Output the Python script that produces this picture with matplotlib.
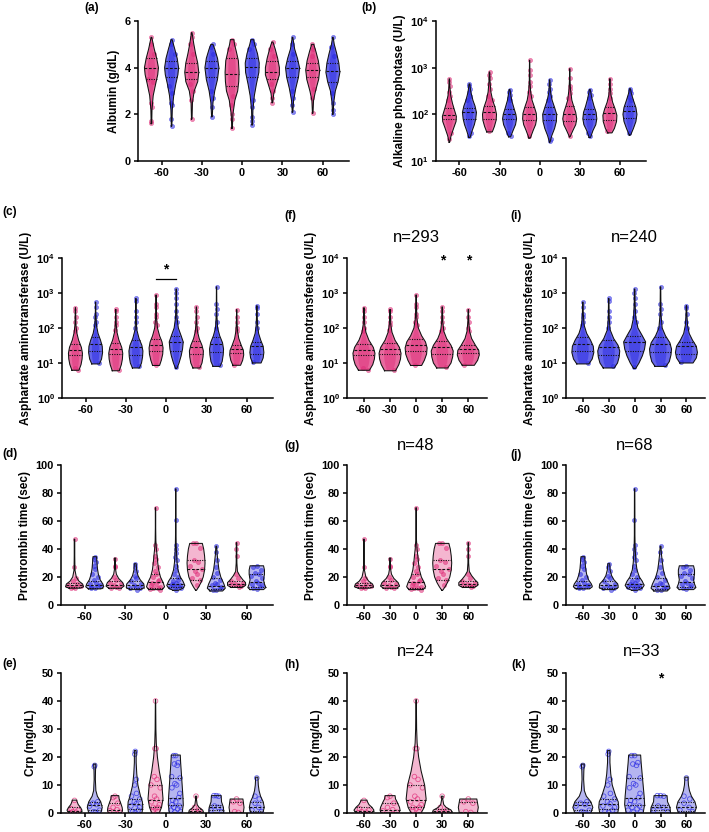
import numpy as np
import matplotlib
matplotlib.use('Agg')
import matplotlib.pyplot as plt
from matplotlib.ticker import FixedLocator, NullLocator

plt.rcParams['font.family'] = ['Liberation Sans', 'DejaVu Sans']
plt.rcParams['font.weight'] = 'bold'
plt.rcParams['mathtext.fontset'] = 'custom'
plt.rcParams['mathtext.rm'] = 'Liberation Sans:bold'
plt.rcParams['mathtext.bf'] = 'Liberation Sans:bold'
plt.rcParams['mathtext.it'] = 'Liberation Sans:bold'
plt.rcParams['mathtext.default'] = 'rm'

# ---------------- data ----------------
TIMES = [-60, -30, 0, 30, 60]
# order of 10 groups: P-60, B-60, P-30, B-30, P0, B0, P30, B30, P60, B60  (P = pink cohort, B = blue cohort)

# Albumin (g/dL)
ALB_Y = [[1.6, 2.2, 2.8, 3.3, 3.7, 4.0, 4.4, 4.8, 5.3],
         [1.5, 2.2, 2.8, 3.3, 3.7, 4.0, 4.4, 4.8, 5.2],
         [1.8, 2.5, 3.0, 3.4, 3.8, 4.2, 4.6, 5.0, 5.5],
         [1.9, 2.5, 3.0, 3.5, 4.0, 4.4, 4.8, 5.0],
         [1.4, 2.0, 2.6, 3.0, 3.4, 3.8, 4.3, 4.7, 5.0, 5.2],
         [1.55, 2.2, 2.8, 3.3, 3.8, 4.2, 4.6, 5.0, 5.2],
         [2.5, 2.9, 3.3, 3.7, 4.0, 4.4, 4.8, 5.1],
         [2.1, 2.6, 3.1, 3.6, 4.0, 4.4, 4.8, 5.3],
         [2.05, 2.6, 3.0, 3.5, 3.9, 4.3, 4.7, 5.0],
         [2.0, 2.5, 3.0, 3.4, 3.8, 4.2, 4.6, 5.0, 5.3]]
ALB_W = [[0.04, 0.08, 0.25, 0.6, 0.9, 1.0, 0.75, 0.4, 0.05],
         [0.04, 0.1, 0.3, 0.6, 0.9, 1.0, 0.8, 0.45, 0.08],
         [0.04, 0.1, 0.35, 0.85, 1.0, 0.85, 0.55, 0.3, 0.04],
         [0.05, 0.15, 0.4, 0.8, 1.0, 0.8, 0.4, 0.15],
         [0.04, 0.12, 0.4, 0.8, 0.95, 1.0, 0.9, 0.6, 0.35, 0.25],
         [0.04, 0.1, 0.3, 0.6, 0.95, 1.0, 0.75, 0.35, 0.2],
         [0.04, 0.2, 0.6, 1.0, 1.0, 0.75, 0.4, 0.08],
         [0.04, 0.15, 0.45, 0.85, 1.0, 0.7, 0.3, 0.04],
         [0.04, 0.12, 0.4, 0.85, 1.0, 0.8, 0.45, 0.15],
         [0.04, 0.12, 0.35, 0.75, 1.0, 0.85, 0.55, 0.2, 0.04]]
ALB_MED = [4.0, 4.0, 3.8, 4.0, 3.75, 4.05, 3.8, 4.0, 3.9, 3.85]
ALB_Q1 = [3.5, 3.6, 3.5, 3.6, 3.2, 3.6, 3.5, 3.6, 3.6, 3.4]
ALB_Q3 = [4.4, 4.3, 4.2, 4.3, 4.4, 4.4, 4.3, 4.3, 4.2, 4.2]
ALB_PTS = [[1.65, 1.7, 2.3, 2.5, 3.4, 3.5, 4.6, 5.0, 5.3],
           [1.5, 1.8, 2.4, 2.5, 2.9, 3.2, 4.6, 5.0, 5.2],
           [1.8, 2.6, 3.0, 3.3, 4.6, 5.0, 5.3, 5.5],
           [1.9, 2.3, 2.7, 3.0, 4.6, 4.9, 5.0],
           [1.4, 1.8, 2.0, 2.4, 2.8, 4.8, 5.0, 5.2],
           [1.55, 1.7, 1.9, 2.3, 2.6, 4.8, 5.0, 5.2],
           [2.5, 2.7, 3.0, 3.3, 4.5, 4.8, 5.1],
           [2.1, 2.4, 2.7, 3.0, 4.6, 5.0, 5.3],
           [2.05, 2.7, 3.1, 4.5, 4.8, 5.0],
           [2.0, 2.2, 2.5, 2.9, 4.5, 4.9, 5.3]]

# Alkaline phosphatase (U/L)
ALP_Y = [[25, 35, 50, 70, 90, 120, 170, 250, 400, 575],
         [32, 45, 60, 80, 110, 150, 200, 300, 450],
         [42, 55, 75, 100, 140, 200, 300, 500, 810],
         [33, 45, 60, 80, 100, 140, 200, 340],
         [31, 45, 60, 80, 105, 140, 200, 300, 500, 1440],
         [25, 35, 50, 70, 100, 140, 200, 300, 550],
         [33, 45, 60, 80, 110, 150, 200, 350, 600, 950],
         [32, 45, 60, 80, 110, 150, 220, 340],
         [40, 50, 70, 95, 130, 180, 260, 400, 580],
         [36, 50, 70, 100, 140, 200, 280, 355]]
ALP_W = [[0.03, 0.25, 0.6, 0.95, 1.0, 0.75, 0.45, 0.2, 0.06, 0.03],
         [0.1, 0.4, 0.7, 0.9, 1.0, 0.8, 0.5, 0.2, 0.05],
         [0.4, 0.7, 0.95, 1.0, 0.8, 0.45, 0.2, 0.08, 0.03],
         [0.15, 0.5, 0.85, 1.0, 0.9, 0.6, 0.3, 0.06],
         [0.1, 0.5, 0.85, 1.0, 0.95, 0.7, 0.35, 0.15, 0.05, 0.02],
         [0.03, 0.3, 0.7, 0.95, 1.0, 0.7, 0.35, 0.12, 0.03],
         [0.05, 0.45, 0.85, 1.0, 0.85, 0.55, 0.3, 0.1, 0.03, 0.02],
         [0.1, 0.45, 0.85, 1.0, 0.9, 0.6, 0.3, 0.06],
         [0.3, 0.65, 0.95, 1.0, 0.75, 0.4, 0.15, 0.05, 0.02],
         [0.1, 0.5, 0.85, 1.0, 0.85, 0.5, 0.2, 0.06]]
ALP_MED = [98, 110, 112, 100, 100, 100, 100, 100, 105, 118]
ALP_Q1 = [78, 80, 81, 78, 74, 75, 73, 78, 75, 85]
ALP_Q3 = [140, 140, 150, 130, 145, 145, 150, 130, 145, 150]
ALP_PTS = [[575, 500, 400, 300, 250, 200, 40, 30],
           [450, 400, 350, 300, 250, 200, 40, 35],
           [810, 700, 600, 450, 350, 250, 200, 45],
           [340, 300, 260, 220, 200, 40, 35],
           [1440, 900, 700, 500, 400, 300, 250, 35],
           [550, 450, 350, 300, 250, 200, 30, 27],
           [950, 600, 400, 350, 280, 220, 35],
           [340, 300, 260, 220, 35, 40],
           [580, 450, 350, 280, 220, 45],
           [355, 320, 280, 230, 200, 40]]

# Aspartate aminotransferase (U/L)
AST_Y = [[6.2, 9, 13, 19, 28, 45, 75, 130, 380],
         [9.4, 13, 20, 30, 45, 70, 120, 250, 550],
         [6.0, 9, 13, 19, 28, 45, 75, 130, 340],
         [7.2, 10, 15, 22, 32, 50, 90, 200, 700],
         [8.5, 12, 18, 27, 40, 60, 100, 200, 880],
         [7, 10, 16, 25, 40, 60, 100, 200, 500, 1300],
         [7.2, 10, 15, 22, 32, 50, 80, 150, 400],
         [8, 11, 17, 25, 38, 60, 100, 250, 1500],
         [8.6, 12, 17, 23, 32, 50, 80, 150, 335],
         [10, 14, 20, 30, 45, 70, 120, 250, 435]]
AST_W = [[0.5, 0.8, 0.95, 1.0, 0.85, 0.45, 0.18, 0.06, 0.02],
         [0.55, 0.85, 1.0, 0.95, 0.7, 0.35, 0.12, 0.04, 0.02],
         [0.5, 0.8, 0.95, 1.0, 0.85, 0.45, 0.18, 0.06, 0.02],
         [0.5, 0.8, 0.95, 1.0, 0.85, 0.45, 0.12, 0.04, 0.02],
         [0.5, 0.75, 0.95, 1.0, 0.85, 0.5, 0.2, 0.06, 0.02],
         [0.1, 0.4, 0.7, 0.9, 1.0, 0.7, 0.3, 0.1, 0.04, 0.02],
         [0.5, 0.8, 0.95, 1.0, 0.8, 0.4, 0.15, 0.05, 0.02],
         [0.5, 0.8, 0.95, 1.0, 0.85, 0.45, 0.15, 0.04, 0.02],
         [0.55, 0.85, 1.0, 0.95, 0.65, 0.3, 0.12, 0.04, 0.02],
         [0.6, 0.9, 1.0, 0.9, 0.55, 0.25, 0.1, 0.04, 0.02]]
AST_MED = [23, 35, 25.6, 28, 32, 40, 28.6, 35, 25, 30]
AST_Q1 = [16.5, 22, 18.5, 17, 22, 22, 18, 20, 19, 18]
AST_Q3 = [36, 55, 38, 45, 50, 60, 42, 55, 33, 40]
AST_PTS = [[380, 300, 200, 150, 100, 80, 6.5, 7],
           [550, 400, 250, 200, 150, 120, 10],
           [340, 300, 200, 150, 120, 90, 6.5],
           [700, 600, 300, 200, 150, 100, 8],
           [880, 500, 400, 250, 200, 150, 120, 9],
           [1300, 1000, 700, 500, 300, 200, 150, 7.5],
           [400, 300, 200, 150, 100, 80, 7.5],
           [1500, 500, 350, 250, 150, 100, 9],
           [335, 200, 150, 100, 80, 9],
           [435, 380, 250, 150, 100, 11]]

# Prothrombin time (sec)
PT_Y = [[12, 13, 15, 17, 20, 25, 35, 47],
        [11.5, 13, 15, 18, 22, 26, 30, 34.5],
        [12, 13.5, 16, 19, 22, 26, 30, 33.5],
        [11, 12.5, 15, 18, 21, 25, 29.5],
        [11, 13, 16, 20, 25, 30, 35, 40, 46, 55, 69.5],
        [10.5, 12, 14, 17, 20, 25, 30, 35, 42, 50, 60, 83],
        [10.5, 13, 16, 20, 25, 30, 35, 40, 44],
        [10, 12, 15, 20, 25, 30, 36, 42],
        [12.5, 14, 16, 18, 21, 24, 30, 38, 44.5],
        [11, 12.5, 15, 18, 22, 25, 28]]
PT_W = [[0.6, 1.0, 0.9, 0.5, 0.2, 0.05, 0.03, 0.03],
        [0.7, 1.0, 0.9, 0.6, 0.4, 0.3, 0.25, 0.2],
        [0.7, 1.0, 0.85, 0.4, 0.15, 0.05, 0.04, 0.08],
        [0.6, 1.0, 0.95, 0.55, 0.3, 0.15, 0.1],
        [0.75, 1.0, 0.85, 0.55, 0.35, 0.25, 0.18, 0.1, 0.04, 0.02, 0.02],
        [0.3, 0.8, 1.0, 0.8, 0.5, 0.25, 0.15, 0.1, 0.05, 0.03, 0.03, 0.02],
        [0.05, 0.3, 0.55, 0.8, 0.95, 1.0, 0.95, 0.85, 0.7],
        [0.7, 1.0, 0.85, 0.5, 0.3, 0.2, 0.1, 0.04],
        [0.6, 1.0, 1.0, 0.7, 0.35, 0.1, 0.04, 0.03, 0.03],
        [0.75, 1.0, 0.85, 0.75, 0.85, 0.85, 0.75]]
PT_MED = [14, 14, 14, 14, 16.5, 15, 26, 13.5, 15, 16.5]
PT_Q1 = [12.8, 12.5, 12.5, 12.5, 12.5, 13, 18, 11.5, 13.5, 13]
PT_Q3 = [16, 17, 17, 17, 22, 19, 32, 19, 17, 22]
PT_PTS = [[47, 27, 19, 17, 15, 14, 13.5, 13, 12.5, 12],
          [34, 33, 31, 28, 26, 22, 20, 18, 16, 15, 14, 13.5, 13, 12.5, 12],
          [33, 28, 27, 20, 18, 16, 15, 14, 13, 12.5, 12],
          [29.5, 27, 24, 21, 19, 17, 15, 14, 13, 12.5, 12, 11],
          [69.5, 43, 40, 35, 33, 30, 27, 24, 22, 20, 18, 17, 16, 15, 14, 13, 12.5, 12, 11.5, 11],
          [83, 60.5, 43, 40, 37, 34, 32, 28, 25, 22, 20, 18, 17, 16, 15, 14.5, 14, 13.5, 13, 12.5, 12, 11],
          [44, 44, 41, 32, 31, 28, 26, 24, 22, 19, 18, 14],
          [42, 38, 32, 27, 23, 20, 18, 16, 15, 14, 13, 12, 11, 10.5],
          [44.5, 40, 35, 22, 19, 17, 16, 15, 14.5, 14, 13.5, 13],
          [28, 27, 25, 23, 22, 21, 19, 17, 16, 15, 14, 13, 12, 11.5]]

# C-reactive protein (mg/dL)
CRP_Y = [[0, 1, 2, 3, 4, 4.6],
         [0, 2, 4, 6, 8, 12, 15, 17.5],
         [0, 1, 2, 4, 5, 6.2],
         [0, 2, 4, 6, 10, 14, 18, 22.3],
         [0, 2, 5, 10, 15, 20, 25, 30, 40.5],
         [0, 3, 6, 10, 14, 18, 20.7],
         [0, 1, 2, 3, 5, 6],
         [0, 2, 4, 6.2],
         [0, 2, 4, 5],
         [0, 2, 4, 6, 8, 10, 12.8]]
CRP_W = [[0.8, 1.0, 0.8, 0.5, 0.35, 0.3],
         [0.8, 1.0, 0.8, 0.35, 0.15, 0.08, 0.1, 0.15],
         [0.9, 1.0, 0.95, 0.7, 0.55, 0.5],
         [0.9, 1.0, 0.95, 0.7, 0.35, 0.2, 0.12, 0.12],
         [0.5, 0.8, 1.0, 0.85, 0.5, 0.25, 0.1, 0.05, 0.02],
         [0.85, 1.0, 0.95, 0.85, 0.75, 0.65, 0.6],
         [1.0, 0.9, 0.4, 0.15, 0.05, 0.1],
         [1.0, 0.95, 0.7, 0.65],
         [0.9, 1.0, 0.9, 0.85],
         [0.8, 1.0, 0.85, 0.5, 0.3, 0.2, 0.15]]
CRP_MED = [0.8, 2.8, 1.2, 3.3, 4.5, 5.5, 0.6, 2.0, 0.4, 2.3]
CRP_Q1 = [0.2, 1.0, 0.3, 1.5, 2.0, 3.0, 0.2, 1.0, 0.1, 0.8]
CRP_Q3 = [2.0, 4.0, 3.5, 5.0, 10.0, 12.5, 1.3, 3.0, 3.8, 4.0]
CRP_PTS = [[4.5, 1.5, 1.0, 0.5, 0.3, 0.1],
           [17, 16.5, 4, 3.5, 3, 2.5, 1, 0.5, 0.2],
           [6, 5.5, 3.5, 2, 1.2, 0.8, 0.3],
           [22, 21, 12, 10, 7, 6, 5, 4, 3.3, 2.5, 2, 1, 0.5, 0.2],
           [40, 23, 23, 13, 12, 10, 9, 6, 5, 4, 3, 2, 2, 1.5, 1, 0.5],
           [20.5, 20.5, 18, 17.5, 17, 13, 12.5, 10.5, 10, 9, 7, 5.5, 4.5, 4, 3, 2.5, 2, 1.5, 1, 0.5, 0.3],
           [6, 2, 1, 0.5, 0.2],
           [6.2, 6.2, 6.0, 2.5, 2, 1, 0.5],
           [5, 4, 3.5, 0.5, 0.2],
           [12.5, 6, 5, 3.5, 2, 1, 0.5]]

N_LABELS = {'f': 'n=293', 'i': 'n=240', 'g': 'n=48', 'j': 'n=68', 'h': 'n=24', 'k': 'n=33'}

MEASURES = {
    'alb': dict(Y=ALB_Y, W=ALB_W, MED=ALB_MED, Q1=ALB_Q1, Q3=ALB_Q3, PTS=ALB_PTS, log=False,
                ylim=(0, 6), yticks=[0, 2, 4, 6], label='Albumin (g/dL)', style='dense'),
    'alp': dict(Y=ALP_Y, W=ALP_W, MED=ALP_MED, Q1=ALP_Q1, Q3=ALP_Q3, PTS=ALP_PTS, log=True,
                ylim=(10, 1e4), yticks=[10, 100, 1000, 10000], label='Alkaline phosphotase (U/L)', style='dense'),
    'ast': dict(Y=AST_Y, W=AST_W, MED=AST_MED, Q1=AST_Q1, Q3=AST_Q3, PTS=AST_PTS, log=True,
                ylim=(1, 1e4), yticks=[1, 10, 100, 1000, 10000], label='Asphartate aminotransferase (U/L)', style='dense'),
    'pt': dict(Y=PT_Y, W=PT_W, MED=PT_MED, Q1=PT_Q1, Q3=PT_Q3, PTS=PT_PTS, log=False,
               ylim=(0, 100), yticks=[0, 20, 40, 60, 80, 100], label='Prothrombin time (sec)', style='mid'),
    'crp': dict(Y=CRP_Y, W=CRP_W, MED=CRP_MED, Q1=CRP_Q1, Q3=CRP_Q3, PTS=CRP_PTS, log=False,
                ylim=(0, 50), yticks=[0, 10, 20, 30, 40, 50], label='Crp (mg/dL)', style='sparse'),
}

# ---------------- style ----------------
PINK = '#E0307A'
BLUE = '#2B2BE3'
PINK_L = '#F3AECB'
BLUE_L = '#ADADEF'

FIG_W, FIG_H = 709, 832
fig = plt.figure(figsize=(FIG_W / 100, FIG_H / 100), dpi=100)


def add_ax(l, t, r, b):
    return fig.add_axes([l / FIG_W, 1 - b / FIG_H, (r - l) / FIG_W, (b - t) / FIG_H])


JIT = [0.0, -0.55, 0.55, -0.3, 0.3, -0.8, 0.8, -0.15, 0.15, -0.65, 0.65, 0.45, -0.45]


def draw_violin(ax, x, k, m, hw, color, light, style):
    ys = np.asarray(m['Y'][k], float)
    ws = np.asarray(m['W'][k], float)
    log = m['log']

    def wat(v):
        if log:
            return np.interp(np.log10(v), np.log10(ys), ws)
        return np.interp(v, ys, ws)

    if style == 'dense':
        ax.fill_betweenx(ys, x - ws * hw, x + ws * hw, facecolor=color, alpha=0.72, lw=0, zorder=2)
        ax.fill_betweenx(ys, x - ws * hw * 0.55, x + ws * hw * 0.55, facecolor=color, alpha=0.5, lw=0, zorder=2)
    else:
        ax.fill_betweenx(ys, x - ws * hw, x + ws * hw, facecolor=light, alpha=0.9, lw=0, zorder=2)
    xs = np.concatenate([x - ws * hw, (x + ws * hw)[::-1], [x - ws[0] * hw]])
    yy = np.concatenate([ys, ys[::-1], [ys[0]]])
    ax.plot(xs, yy, color='#111111', lw=0.75, zorder=5)

    pts = m['PTS'][k]
    px = [x + JIT[i % len(JIT)] * wat(v) * hw * 0.9 for i, v in enumerate(pts)]
    if style == 'sparse':
        ax.scatter(px, pts, s=11, facecolors='none', edgecolors=color, linewidths=0.6, alpha=0.75, zorder=4)
    else:
        ax.scatter(px, pts, s=9, facecolors=color, edgecolors=color, linewidths=0.5, alpha=0.55, zorder=4)

    for val, ls in ((m['MED'][k], (0, (2.5, 1.5))), (m['Q1'][k], (0, (1, 1.2))), (m['Q3'][k], (0, (1, 1.2)))):
        w = wat(val) * hw
        ax.plot([x - w, x + w], [val, val], color='#111111', lw=0.8, ls=ls, zorder=6)


PANELS = [
    ('a', 'alb', 'both', (138, 21, 349, 161), (84, 8)),
    ('b', 'alp', 'both', (436, 21, 646, 161), (361, 8)),
    ('c', 'ast', 'both', (62, 258, 273, 398), (2, 212)),
    ('f', 'ast', 'pink', (347, 258, 487, 398), (284, 216)),
    ('i', 'ast', 'blue', (566, 258, 705, 398), (510, 216)),
    ('d', 'pt', 'both', (61, 465, 273, 605), (2, 454)),
    ('g', 'pt', 'pink', (347, 465, 487, 605), (284, 446)),
    ('j', 'pt', 'blue', (566, 465, 705, 605), (510, 455)),
    ('e', 'crp', 'both', (61, 673, 273, 813), (2, 664)),
    ('h', 'crp', 'pink', (347, 673, 487, 813), (284, 665)),
    ('k', 'crp', 'blue', (566, 673, 705, 813), (511, 665)),
]

HALF_PX = {'a': 7, 'b': 7, 'c': 7, 'f': 11, 'i': 11, 'd': 9, 'g': 9.5, 'j': 9.5,
           'e': 7.5, 'h': 10, 'k': 10}

axes = {}
for letter, key, which, (l, t, r, b), (lx, ly) in PANELS:
    m = MEASURES[key]
    ax = add_ax(l, t, r, b)
    axes[letter] = ax
    if which == 'both':
        xlim = (-77.5, 79.5)
    else:
        xlim = (-79.5, 81.5)
    ax.set_xlim(*xlim)
    units_per_px = (xlim[1] - xlim[0]) / (r - l)
    hw = HALF_PX[letter] * units_per_px
    if m['log']:
        ax.set_yscale('log')
    ax.set_ylim(*m['ylim'])

    for ti, tm in enumerate(TIMES):
        for g, (col, lcol) in enumerate(((PINK, PINK_L), (BLUE, BLUE_L))):
            if which == 'pink' and g == 1:
                continue
            if which == 'blue' and g == 0:
                continue
            k = 2 * ti + g
            if which == 'both':
                x = tm + (-7.5 if g == 0 else 7.5)
            else:
                x = tm
            draw_violin(ax, x, k, m, hw, col, lcol, m['style'])

    for s in ('top', 'right'):
        ax.spines[s].set_visible(False)
    for s in ('left', 'bottom'):
        ax.spines[s].set_linewidth(1.1)
    ax.xaxis.set_major_locator(FixedLocator(TIMES))
    ax.set_xticklabels([str(v) for v in TIMES])
    ax.yaxis.set_major_locator(FixedLocator(m['yticks']))
    ax.yaxis.set_minor_locator(NullLocator())
    ax.xaxis.set_minor_locator(NullLocator())
    if m['log']:
        ax.set_yticklabels([r'$10^{%d}$' % int(round(np.log10(v))) for v in m['yticks']])
    else:
        ax.set_yticklabels([str(v) for v in m['yticks']])
    ax.tick_params(axis='both', direction='out', length=3.2, width=1.1, labelsize=7.9, pad=2)
    for lab in ax.get_xticklabels() + ax.get_yticklabels():
        lab.set_fontweight('bold')
    ax.set_ylabel(m['label'], fontsize=8.5, fontweight='bold', labelpad=3)

    fig.text(lx / FIG_W, 1 - ly / FIG_H, '(%s)' % letter, fontsize=8.5, fontweight='bold',
             ha='left', va='center')
    if letter in N_LABELS:
        cx = (l + r) / 2 - 1 if letter != 'k' else (l + r) / 2 + 6
        ty = {'f': 238, 'i': 238, 'g': 445, 'j': 445, 'h': 651, 'k': 651}[letter]
        fig.text(cx / FIG_W, 1 - ty / FIG_H, N_LABELS[letter], fontsize=12, fontweight='normal',
                 ha='center', va='center')

# significance marks
axc = axes['c']
axc.plot([-7.5, 7.5], [2500, 2500], color='black', lw=0.9)
axc.text(0, 3000, '*', ha='center', va='bottom', fontsize=10, fontweight='bold')
for xv in (30, 60):
    axes['f'].text(xv, 5200, '*', ha='center', va='bottom', fontsize=10, fontweight='bold')
axes['k'].text(30, 45.5, '*', ha='center', va='bottom', fontsize=10, fontweight='bold')

fig.savefig('out.png', dpi=100)
